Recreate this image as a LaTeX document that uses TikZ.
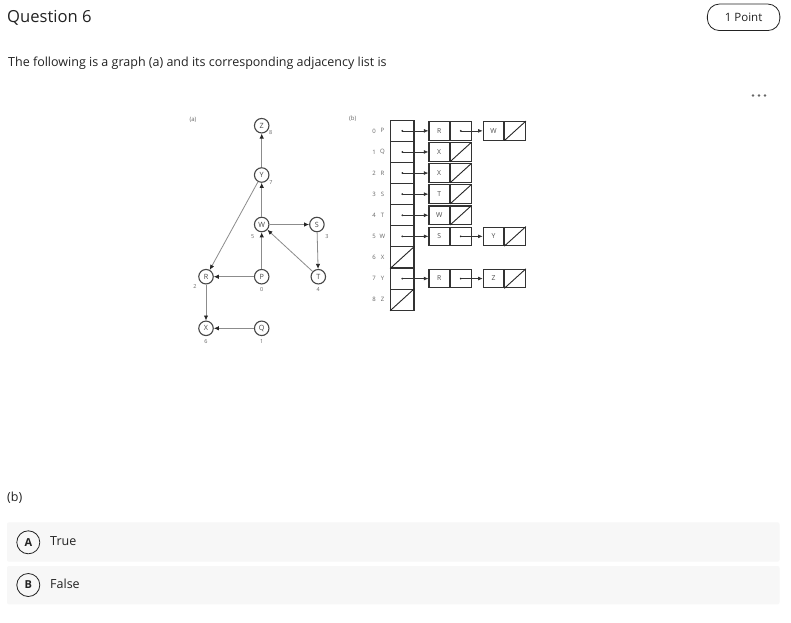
\documentclass[tikz,border=0pt]{standalone}
\usepackage{fontspec}
\setmainfont{Open Sans}
\usetikzlibrary{arrows.meta,positioning}
\definecolor{txt}{HTML}{222222}
\definecolor{optbg}{HTML}{F7F7F7}
\tikzset{
  vert/.style={circle, draw=black!72, line width=1.1pt, minimum size=14.5pt, inner sep=0pt, font=\fontsize{7.2}{7.2}\selectfont, text=black!72},
  num/.style={font=\fontsize{5.5}{5.5}\selectfont, text=black!60, inner sep=0pt},
  gedge/.style={draw=black!45, line width=0.8pt, -{Latex[length=5pt,width=4.4pt,color=black!85]}},
  cell/.style={draw=black!80, line width=1.1pt, minimum width=23.3pt, minimum height=21.1pt, inner sep=0pt},
  half/.style={draw=black!80, line width=1.1pt, minimum width=20.5pt, minimum height=18.5pt, inner sep=0pt, font=\fontsize{6.8}{6.8}\selectfont, text=black!70},
  idx/.style={font=\fontsize{6}{6}\selectfont, text=black!60, inner sep=0pt},
  ptr/.style={draw=black!80, line width=0.6pt, -{Latex[length=4.5pt,width=3.8pt]}},
  nil/.style={draw=black!85, line width=0.9pt},
  opt/.style={fill=optbg, draw=none, rounded corners=2pt},
  optc/.style={circle, draw=txt, line width=0.8pt, minimum size=23pt, inner sep=0pt, font=\fontsize{11}{11}\selectfont\bfseries, text=txt},
  body/.style={font=\fontsize{12.5}{15}\selectfont, text=txt, inner sep=0pt, anchor=base west}
}
\begin{document}
\begin{tikzpicture}[x=1pt,y=-1pt]
\useasboundingbox[fill=white] (0,0) rectangle (791,622);
% header
\node[body, font=\fontsize{16.6}{19}\selectfont] (title) at (7,22.5) {Question 6};
\node[draw=txt, line width=0.8pt, rounded corners=12pt, minimum width=72.5pt, minimum height=26.5pt, inner sep=0pt, font=\fontsize{11.5}{13}\selectfont, text=txt] (badge) at (743.6,17.3) {1 Point};
\node[body] (stem) at (8,66.7) {The following is a graph (a) and its corresponding adjacency list is};
\foreach \i/\x in {1/753,2/759,3/765} \fill[black!60] (\x,95.5) circle (1.4) coordinate (dot\i);
% graph (a)
\node[num, font=\fontsize{6}{6}\selectfont] (la) at (193,120) {(a)};
\node[vert] (Z) at (261.7,125.7) {Z};
\node[vert] (Y) at (261.7,175) {Y};
\node[vert] (W) at (261.7,224.5) {W};
\node[vert] (S) at (316.9,224.5) {S};
\node[vert] (R) at (206,276.7) {R};
\node[vert] (P) at (261.7,276.7) {P};
\node[vert] (T) at (318.3,276.7) {T};
\node[vert] (X) at (206,328.3) {X};
\node[vert] (Q) at (261.7,328.3) {Q};
\node[num] (nZ) at (270.7,133) {8};
\node[num] (nY) at (271,183) {7};
\node[num] (nW) at (252.7,236.7) {5};
\node[num] (nS) at (327,236.5) {3};
\node[num] (nR) at (195,286.7) {2};
\node[num] (nP) at (261.7,290) {0};
\node[num] (nT) at (318.3,290) {4};
\node[num] (nX) at (206,342) {6};
\node[num] (nQ) at (261.7,342) {1};
\draw[gedge] (Y) -- (Z);
\draw[gedge] (W) -- (Y);
\draw[gedge] (W) -- (S);
\draw[gedge] (S) -- (T);
\draw[gedge] (T) -- (W);
\draw[gedge] (P) -- (W);
\draw[gedge] (P) -- (R);
\draw[gedge] (Y) -- (R);
\draw[gedge] (R) -- (X);
\draw[gedge] (Q) -- (X);
% adjacency list (b)
\node[num, font=\fontsize{6}{6}\selectfont] (lb) at (352.7,119) {(b)};
\foreach \i/\v in {0/P,1/Q,2/R,3/S,4/T,5/W,6/X,7/Y,8/Z}{
  \node[cell] (a\i) at (402.3,{120.3+21.1*(\i+0.5)}) {};
  \node[idx] (i\i) at (374,{120.3+21.1*(\i+0.5)}) {\i};
  \node[idx] (v\i) at (382.5,{120.3+21.1*(\i+0.5)}) {\v};
}
\draw[nil] (a6.south west) -- (a6.north east);
\draw[nil] (a8.south west) -- (a8.north east);
% list nodes
\foreach \i/\d in {0/R,1/X,2/X,3/T,4/W,5/S,7/R}{
  \node[half] (d\i) at (439.2,{120.3+21.1*(\i+0.5)}) {\d};
  \node[half, right=0pt of d\i] (p\i) {};
  \fill[black!85] (a\i.center) circle (1);
  \draw[ptr] (a\i.center) -- (d\i.west);
}
\foreach \i/\d in {0/W,5/Y,7/Z}{
  \node[half] (e\i) at (493.5,{120.3+21.1*(\i+0.5)}) {\d};
  \node[half, right=0pt of e\i] (q\i) {};
  \draw[nil] (q\i.south west) -- (q\i.north east);
  \fill[black!85] (p\i.center) circle (1);
  \draw[ptr] (p\i.center) -- (e\i.west);
}
\foreach \i in {1,2,3,4}{
  \draw[nil] (p\i.south west) -- (p\i.north east);
}
% options
\node[body] (lbb) at (7,501.5) {(b)};
\fill[opt] (7,522.3) rectangle (779.5,561.7);
\fill[opt] (7,566) rectangle (779.5,604.3);
\node[optc] (cA) at (28.3,542.3) {A};
\node[body] (tA) at (50,545.8) {True};
\node[optc] (cB) at (28.3,585) {B};
\node[body] (tB) at (50,588.6) {False};
\end{tikzpicture}
\end{document}
